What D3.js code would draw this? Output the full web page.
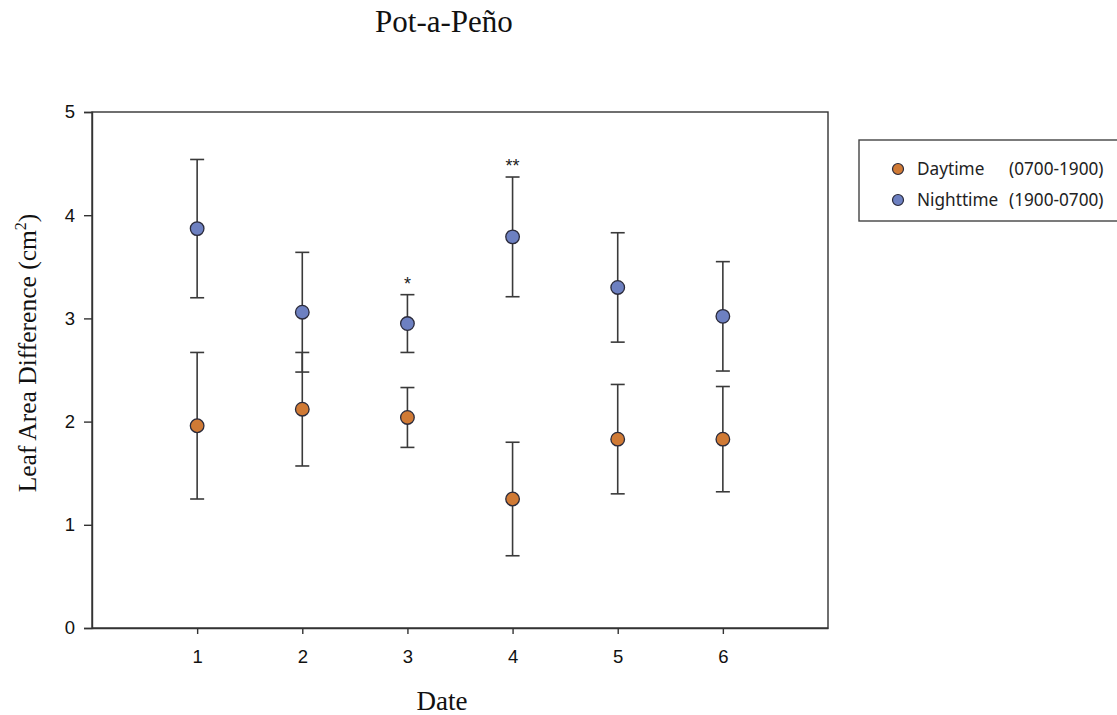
<!DOCTYPE html>
<html>
<head>
<meta charset="utf-8">
<script src="https://cdn.jsdelivr.net/npm/d3@7"></script>
<style>
  body { margin: 0; background: #fff; }
  svg text { font-family: "Liberation Sans", Arial, sans-serif; }
</style>
</head>
<body>
<div id="chart"></div>
<script>
// values
const dates = [1, 2, 3, 4, 5, 6];
const dayMean = [1.96, 2.12, 2.04, 1.25, 1.83, 1.83];
const dayErr = [0.71, 0.55, 0.29, 0.55, 0.53, 0.51];
const nightMean = [3.87, 3.06, 2.95, 3.79, 3.30, 3.02];
const nightErr = [0.67, 0.58, 0.28, 0.58, 0.53, 0.53];
const signif = ["", "", "*", "**", "", ""];
const yTicks = [0, 1, 2, 3, 4, 5];
const seriesNames = ["Daytime", "Nighttime"];
const seriesHours = ["(0700-1900)", "(1900-0700)"];

const W = 1117, H = 715;
const plotL = 92, plotR = 828, plotT = 112, plotB = 628;
const colors = ["#d07a35", "#6d80c1"];
const serif = "'Liberation Serif', 'Times New Roman', serif";

const x = d3.scaleLinear().domain([0, 7]).range([plotL, plotR]);
const y = d3.scaleLinear().domain([0, 5]).range([plotB, plotT]);

const svg = d3.select("#chart").append("svg")
    .attr("width", W)
    .attr("height", H);

// title
svg.append("text")
    .attr("x", 444).attr("y", 32)
    .attr("text-anchor", "middle")
    .style("font-family", serif)
    .style("font-size", "31px")
    .attr("fill", "#111")
    .text("Pot-a-Peño");

// plot frame
svg.append("rect")
    .attr("x", plotL).attr("y", plotT)
    .attr("width", plotR - plotL).attr("height", plotB - plotT)
    .attr("fill", "none")
    .attr("stroke", "#333")
    .attr("stroke-width", 1.4);

// axes
const yAxis = svg.append("g")
    .attr("transform", `translate(${plotL},0)`)
    .call(d3.axisLeft(y).tickValues(yTicks).tickSize(8).tickPadding(9).tickFormat(d3.format("d")));
const xAxis = svg.append("g")
    .attr("transform", `translate(0,${plotB})`)
    .call(d3.axisBottom(x).tickValues(dates).tickSize(6).tickSizeOuter(0).tickPadding(16).tickFormat(d3.format("d")));
[yAxis, xAxis].forEach(g => {
    g.select(".domain").attr("stroke", "#333").attr("stroke-width", 1.4);
    g.selectAll(".tick line").attr("stroke", "#333").attr("stroke-width", 1.4);
    g.selectAll(".tick text")
        .style("font-family", "'Liberation Sans', Arial, sans-serif")
        .style("font-size", "18.5px")
        .attr("fill", "#111");
});

// axis titles
const yTitle = svg.append("text")
    .attr("transform", "translate(36,353) rotate(-90)")
    .attr("text-anchor", "middle")
    .style("font-family", serif)
    .style("font-size", "25.5px")
    .attr("fill", "#111");
yTitle.append("tspan").text("Leaf Area Difference (cm");
yTitle.append("tspan").attr("dy", -10).style("font-size", "16px").text("2");
yTitle.append("tspan").attr("dy", 10).text(")");

svg.append("text")
    .attr("x", 442).attr("y", 710)
    .attr("text-anchor", "middle")
    .style("font-family", serif)
    .style("font-size", "27px")
    .attr("fill", "#111")
    .text("Date");

// series
const series = [
    dates.map((d, i) => ({date: d, mean: dayMean[i], err: dayErr[i]})),
    dates.map((d, i) => ({date: d, mean: nightMean[i], err: nightErr[i]}))
];
const capW = 7;

series.forEach(s => {
    const bars = svg.append("g").selectAll("g.err").data(s).join("g").attr("class", "err")
        .attr("stroke", "#3a3a3a").attr("stroke-width", 1.6);
    bars.append("line")
        .attr("x1", d => x(d.date)).attr("x2", d => x(d.date))
        .attr("y1", d => y(d.mean - d.err)).attr("y2", d => y(d.mean + d.err));
    bars.append("line")
        .attr("x1", d => x(d.date) - capW).attr("x2", d => x(d.date) + capW)
        .attr("y1", d => y(d.mean + d.err)).attr("y2", d => y(d.mean + d.err));
    bars.append("line")
        .attr("x1", d => x(d.date) - capW).attr("x2", d => x(d.date) + capW)
        .attr("y1", d => y(d.mean - d.err)).attr("y2", d => y(d.mean - d.err));
});
series.forEach((s, k) => {
    svg.append("g").selectAll("circle").data(s).join("circle")
        .attr("cx", d => x(d.date))
        .attr("cy", d => y(d.mean))
        .attr("r", 6.8)
        .attr("fill", colors[k])
        .attr("stroke", "#2a2a3a")
        .attr("stroke-width", 1.3);
});

// significance marks above nighttime bars
svg.append("g").selectAll("text").data(series[1]).join("text")
    .attr("x", d => x(d.date))
    .attr("y", d => y(d.mean + d.err) - 5)
    .attr("text-anchor", "middle")
    .style("font-size", "18px")
    .attr("fill", "#222")
    .text((d, i) => signif[i]);

// legend
const legend = svg.append("g");
legend.append("rect")
    .attr("x", 859).attr("y", 140)
    .attr("width", 264).attr("height", 81)
    .attr("fill", "#fff")
    .attr("stroke", "#444")
    .attr("stroke-width", 1.4);
seriesNames.forEach((name, k) => {
    const ly = 169 + k * 31;
    legend.append("circle")
        .attr("cx", 898).attr("cy", ly).attr("r", 5.5)
        .attr("fill", colors[k])
        .attr("stroke", "#2a2a3a").attr("stroke-width", 1.2);
    legend.append("text")
        .attr("x", 917).attr("y", ly + 6)
        .style("font-family", "'Noto Sans', 'Open Sans', sans-serif")
        .style("font-size", "17.2px")
        .attr("fill", "#222")
        .text(name);
    legend.append("text")
        .attr("x", 1009).attr("y", ly + 6)
        .style("font-family", "'Noto Sans', 'Open Sans', sans-serif")
        .style("font-size", "17.2px")
        .attr("fill", "#222")
        .text(seriesHours[k]);
});
</script>
</body>
</html>
